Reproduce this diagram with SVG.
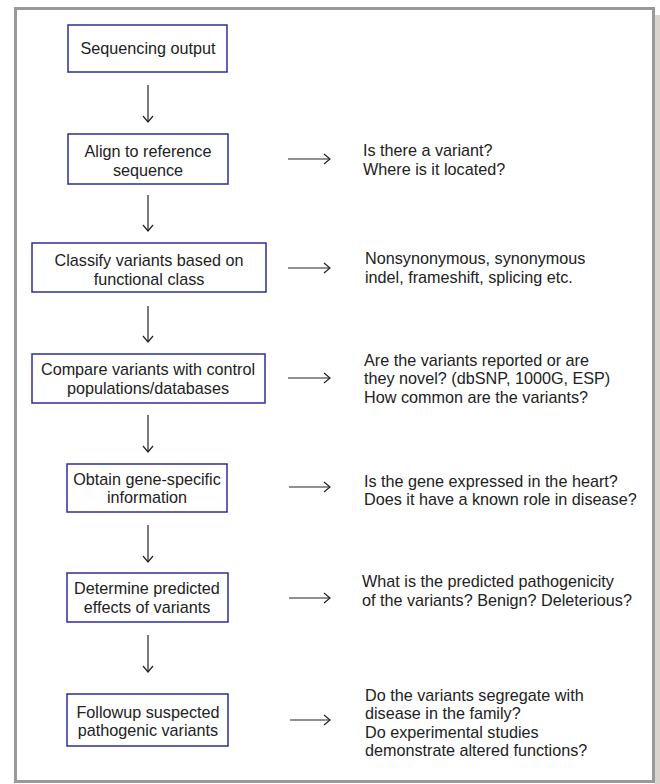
<svg xmlns="http://www.w3.org/2000/svg" width="660" height="784" viewBox="0 0 660 784">
<style>
.box{fill:#fff;stroke:#2e2e9c;stroke-width:1.5}
.t{font-family:"Liberation Sans",Arial,sans-serif;font-size:16.2px;fill:#222}
.c{text-anchor:middle}
.ln{stroke:#222;stroke-width:1.2;fill:none}
</style>
<defs>
<marker id="ah" markerWidth="12" markerHeight="12" refX="9.5" refY="6" orient="auto" markerUnits="userSpaceOnUse">
<path d="M3.5,1 L9.5,6 L3.5,11" fill="none" stroke="#222" stroke-width="1.2"/>
</marker>
</defs>
<rect x="0" y="0" width="660" height="784" fill="#fff"/>
<rect x="655" y="15" width="5" height="769" fill="#d9d4ce"/>
<rect x="15.5" y="8.5" width="638" height="773" fill="#fff" stroke="#999" stroke-width="3"/>

<g id="n1"><rect class="box" x="68" y="25" width="159" height="47"/><text class="t c" x="148" y="54">Sequencing output</text></g>
<g id="n2"><rect class="box" x="68" y="134" width="160" height="50"/><text class="t c" x="148" y="157">Align to reference</text><text class="t c" x="148" y="176">sequence</text></g>
<g id="n3"><rect class="box" x="32" y="243" width="234" height="49"/><text class="t c" x="149" y="266">Classify variants based on</text><text class="t c" x="149" y="285">functional class</text></g>
<g id="n4"><rect class="box" x="32" y="354" width="233" height="49"/><text class="t c" x="148" y="375">Compare variants with control</text><text class="t c" x="148" y="394">populations/databases</text></g>
<g id="n5"><rect class="box" x="67" y="464" width="160" height="48"/><text class="t c" x="147" y="485">Obtain gene-specific</text><text class="t c" x="147" y="503">information</text></g>
<g id="n6"><rect class="box" x="67" y="573" width="161" height="49"/><text class="t c" x="147" y="594">Determine predicted</text><text class="t c" x="147" y="613">effects of variants</text></g>
<g id="n7"><rect class="box" x="67" y="694" width="161" height="52"/><text class="t c" x="148" y="718">Followup suspected</text><text class="t c" x="148" y="736">pathogenic variants</text></g>

<g id="q1"><text class="t" x="363" y="156">Is there a variant?</text><text class="t" x="363" y="175">Where is it located?</text></g>
<g id="q2"><text class="t" x="365" y="264">Nonsynonymous, synonymous</text><text class="t" x="365" y="283">indel, frameshift, splicing etc.</text></g>
<g id="q3"><text class="t" x="364" y="366">Are the variants reported or are</text><text class="t" x="364" y="384">they novel? (dbSNP, 1000G, ESP)</text><text class="t" x="364" y="403">How common are the variants?</text></g>
<g id="q4"><text class="t" x="364" y="487">Is the gene expressed in the heart?</text><text class="t" x="364" y="505">Does it have a known role in disease?</text></g>
<g id="q5"><text class="t" x="362" y="587">What is the predicted pathogenicity</text><text class="t" x="362" y="606">of the variants? Benign? Deleterious?</text></g>
<g id="q6"><text class="t" x="365" y="701">Do the variants segregate with</text><text class="t" x="365" y="719">disease in the family?</text><text class="t" x="365" y="738">Do experimental studies</text><text class="t" x="365" y="756">demonstrate altered functions?</text></g>

<g id="connectors">
<line class="ln" x1="148" y1="85" x2="148" y2="122" marker-end="url(#ah)"/>
<line class="ln" x1="148" y1="195" x2="148" y2="231" marker-end="url(#ah)"/>
<line class="ln" x1="148" y1="306" x2="148" y2="342" marker-end="url(#ah)"/>
<line class="ln" x1="148" y1="415" x2="148" y2="452" marker-end="url(#ah)"/>
<line class="ln" x1="148" y1="525" x2="148" y2="562" marker-end="url(#ah)"/>
<line class="ln" x1="148" y1="635" x2="148" y2="672" marker-end="url(#ah)"/>
<line class="ln" x1="288" y1="159" x2="330" y2="159" marker-end="url(#ah)"/>
<line class="ln" x1="288" y1="268" x2="330" y2="268" marker-end="url(#ah)"/>
<line class="ln" x1="288" y1="378" x2="330" y2="378" marker-end="url(#ah)"/>
<line class="ln" x1="289" y1="487" x2="330" y2="487" marker-end="url(#ah)"/>
<line class="ln" x1="289" y1="598" x2="330" y2="598" marker-end="url(#ah)"/>
<line class="ln" x1="290" y1="720" x2="330" y2="720" marker-end="url(#ah)"/>
</g>
</svg>
